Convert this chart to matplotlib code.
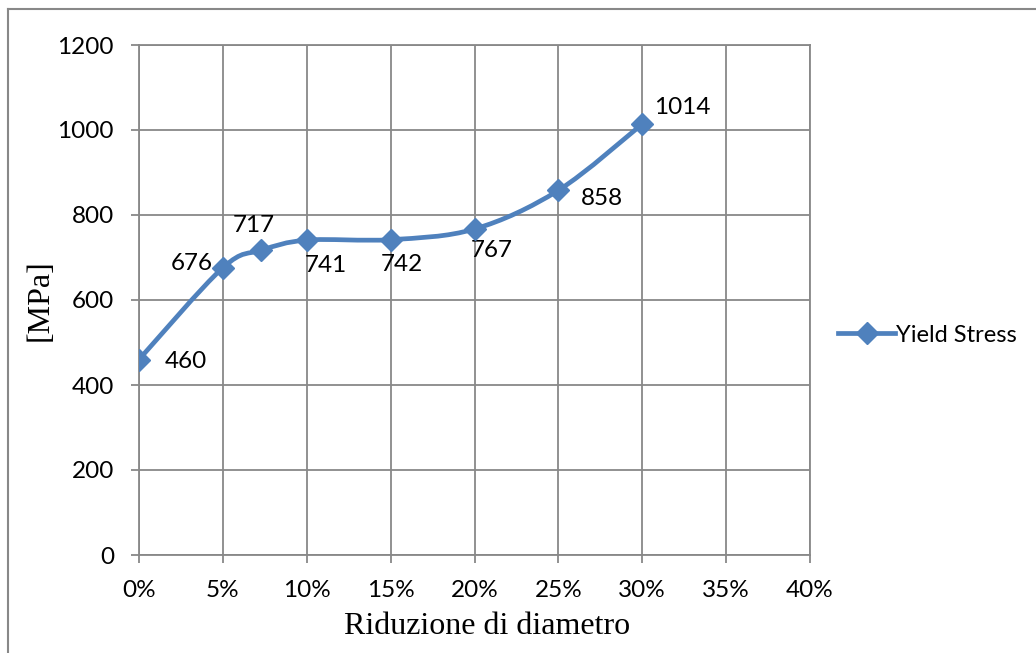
import matplotlib
matplotlib.use("Agg")
import matplotlib.pyplot as plt
import numpy as np
from matplotlib.path import Path
from matplotlib.patches import PathPatch
from matplotlib.lines import Line2D
from matplotlib.ticker import PercentFormatter

# diameter reduction (fraction) vs yield stress
reduction = [0.0, 0.05, 0.073, 0.10, 0.15, 0.20, 0.25, 0.30]
yield_stress = [460, 676, 717, 741, 742, 767, 858, 1014]
series_name = "Yield Stress"

# label offsets in pixels (dx, dy, ha, va)
label_pos = [
    (26, -2, "left", "center"),
    (-10, 4, "right", "center"),
    (-8, 14, "center", "bottom"),
    (-2, -15, "left", "top"),
    (-10, -14, "left", "top"),
    (-4, -11, "left", "top"),
    (22, -8, "left", "center"),
    (12, 6, "left", "bottom"),
]

blue = "#4F81BD"
grid_col = "#888888"
tick_font = "Lato"
serif_font = "Liberation Serif"

W, H = 1036, 653
fig = plt.figure(figsize=(W / 100, H / 100), dpi=100)
ax = fig.add_axes([139 / W, 1 - 555 / H, (810 - 139) / W, (555 - 45) / H])

ax.set_xlim(0, 0.40)
ax.set_ylim(0, 1200)
ax.set_xticks(np.arange(0, 0.401, 0.05))
ax.set_yticks(np.arange(0, 1201, 200))
ax.xaxis.set_major_formatter(PercentFormatter(1.0, decimals=0))
ax.grid(True, color=grid_col, linewidth=1.3)
ax.set_axisbelow(True)
for s in ax.spines.values():
    s.set_color(grid_col)
    s.set_linewidth(1.3)
ax.tick_params(direction="out", length=6, width=1.3, color=grid_col,
               labelsize=17.5, pad=12)
for lab in ax.get_xticklabels() + ax.get_yticklabels():
    lab.set_family(tick_font)

# smoothed line (Excel-style bezier through the points)
x = np.array(reduction)
y = np.array(yield_stress, dtype=float)
px = np.concatenate([[x[0]], x, [x[-1]]])
py = np.concatenate([[y[0]], y, [y[-1]]])
verts = [(x[0], y[0])]
codes = [Path.MOVETO]
for i in range(1, len(x)):
    c1 = (px[i] + (px[i + 1] - px[i - 1]) / 6, py[i] + (py[i + 1] - py[i - 1]) / 6)
    c2 = (px[i + 1] - (px[i + 2] - px[i]) / 6, py[i + 1] - (py[i + 2] - py[i]) / 6)
    verts += [c1, c2, (px[i + 1], py[i + 1])]
    codes += [Path.CURVE4] * 3
ax.add_patch(PathPatch(Path(verts, codes), facecolor="none", edgecolor=blue,
                       linewidth=3.4, capstyle="round", joinstyle="round", zorder=3))
ax.plot(reduction, yield_stress, linestyle="none", marker="D", markersize=11,
        color=blue, zorder=4)

for xv, yv, (dx, dy, ha, va) in zip(reduction, yield_stress, label_pos):
    ax.annotate(str(yv), (xv, yv), xytext=(dx, dy), textcoords="offset pixels",
                ha=ha, va=va, fontsize=17.5, family=tick_font, color="black")

# axis titles
fig.text(487 / W, 1 - 627 / H, "Riduzione di diametro", family=serif_font,
         fontsize=23, ha="center", va="center")
fig.text(40 / W, 1 - 300 / H, "[MPa]", family=serif_font, fontsize=23,
         ha="center", va="center", rotation=90)

handle = Line2D([], [], color=blue, linewidth=3.4, marker="D", markersize=11)
fig.legend([handle], [series_name], loc="center left",
           bbox_to_anchor=(829 / W, 1 - 335 / H), frameon=False,
           prop={"family": tick_font, "size": 17}, handlelength=2.4,
           handletextpad=0.05, borderaxespad=0)

# outer chart border
fig.add_artist(Line2D([8 / W, 8 / W], [0, 1 - 9 / H], color=grid_col,
                      linewidth=1.5, transform=fig.transFigure))
fig.add_artist(Line2D([8 / W, 1], [1 - 9 / H, 1 - 9 / H], color=grid_col,
                      linewidth=1.5, transform=fig.transFigure))

fig.savefig("out.png", dpi=100, facecolor="white")
